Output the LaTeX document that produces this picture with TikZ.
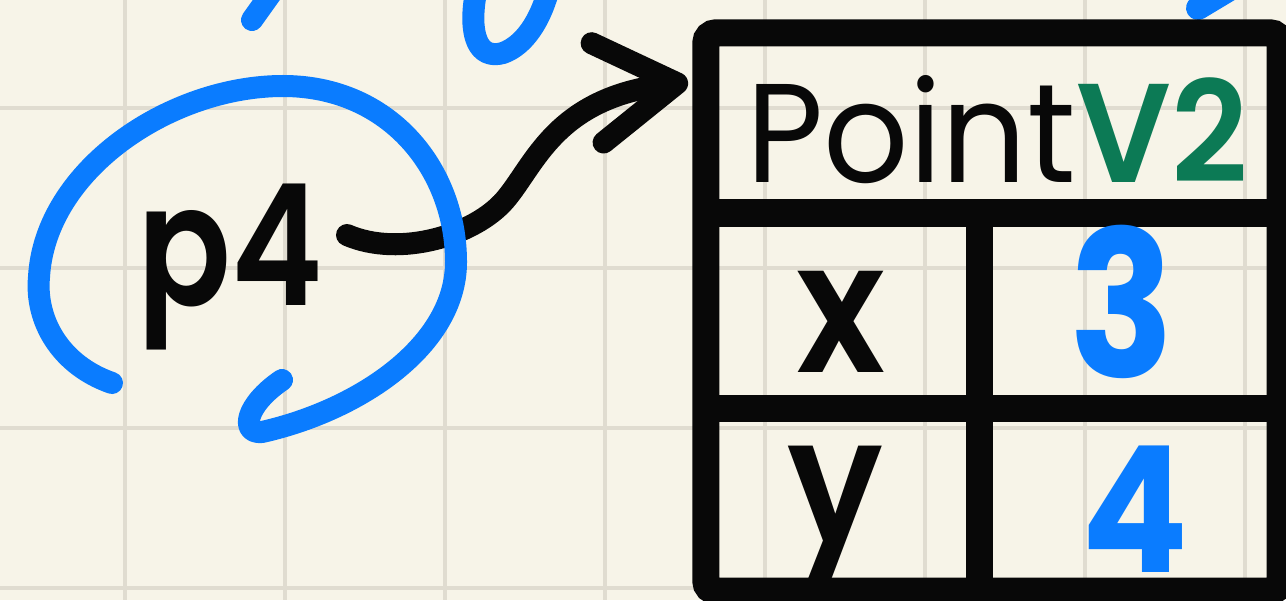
\documentclass[tikz,border=0pt]{standalone}
\usepackage{fontspec}
\usepackage{graphicx}
\setmainfont{Poppins}
\newfontfamily\handsemi{Poppins SemiBold}
\newfontfamily\handbold{Poppins Bold}
\usetikzlibrary{arrows.meta}
\definecolor{paper}{RGB}{247,244,232}
\definecolor{gridc}{RGB}{224,220,208}
\definecolor{ink}{RGB}{8,8,8}
\definecolor{pen}{RGB}{10,124,255}
\definecolor{leaf}{RGB}{12,122,85}
\begin{document}
\begin{tikzpicture}[x=0.01cm, y=-0.01cm,
  gridline/.style={draw=gridc, line width=0.04cm},
  frame/.style={draw=ink, line width=0.27cm},
  pentrace/.style={draw=pen, line width=0.22cm, line cap=round, line join=round},
  link/.style={draw=ink, line width=0.22cm, line cap=round,
    -{Straight Barb[length=0.8cm, width=1.0cm, round]}},
  inktext/.style={text=ink, inner sep=0pt, outer sep=0pt, anchor=base},
  pentext/.style={text=pen, inner sep=0pt, outer sep=0pt, anchor=base}]
% paper and grid
\fill[paper] (0,0) rectangle (1286,600);
\useasboundingbox (0,0) rectangle (1286,600);
\foreach \gx in {125,285,...,1245} \draw[gridline] (\gx,0) -- (\gx,600);
\foreach \gy in {108,268,428,588} \draw[gridline] (0,\gy) -- (1286,\gy);
% partial strokes from above
\draw[pentrace] (272,-8) -- (252,20);
\draw[pentrace] (476,-8) .. controls (468,35) and (478,60) .. (503,53) .. controls (525,45) and (540,20) .. (548,-8);
\draw[pentrace, line width=0.24cm] (1228,-10) -- (1198,8);
% table
\node (tbl) [draw=ink, line width=0.27cm, rounded corners=0.1cm, minimum width=5.74cm,
  minimum height=5.58cm, inner sep=0pt, outer sep=0pt] at (993,312) {};
\coordinate (r1) at (0,213);
\coordinate (r2) at (0,408);
\coordinate (vd) at (979,213);
\draw[frame] (tbl.west |- r1) -- (tbl.east |- r1);
\draw[frame] (tbl.west |- r2) -- (tbl.east |- r2);
\draw[frame] (vd) -- (vd |- tbl.south);
% texts
\node (title) [inktext, font=\fontsize{40pt}{48pt}\selectfont] at (997,182)
  {\scalebox{0.95}[1]{Point\textcolor{leaf}{\handsemi V2}}};
\node (xl) [inktext, font=\handsemi\fontsize{52pt}{60pt}\selectfont] at (841,372) {\scalebox{0.9}[1]{x}};
\node (yl) [inktext, font=\handsemi\fontsize{50pt}{60pt}\selectfont] at (835,543) {\scalebox{0.9}[1]{y}};
\node (xv) [pentext, font=\handbold\fontsize{58pt}{64pt}\selectfont] at (1122,377) {\scalebox{0.85}[1]{3}};
\node (yv) [pentext, font=\handbold\fontsize{50pt}{60pt}\selectfont] at (1135,572) {\scalebox{0.9}[1]{4}};
\node (p4) [inktext, font=\handsemi\fontsize{48pt}{60pt}\selectfont] at (230,305) {\scalebox{0.82}[1]{p4}};
% reference arrow
\coordinate (tail) at (347,235);
\coordinate (tip) at (688,82);
\draw[link] (tail) .. controls (400,258) and (475,235) .. (505,200) .. controls (535,165) and (555,98) .. (tip);
% circle around p4
\draw[pentrace] (112,383) .. controls (60,365) and (35,320) .. (39,277)
  .. controls (45,170) and (170,86) .. (283,86)
  .. controls (390,86) and (456,170) .. (456,262)
  .. controls (456,345) and (360,410) .. (262,432)
  .. controls (240,434) and (245,405) .. (282,380);
\end{tikzpicture}
\end{document}
